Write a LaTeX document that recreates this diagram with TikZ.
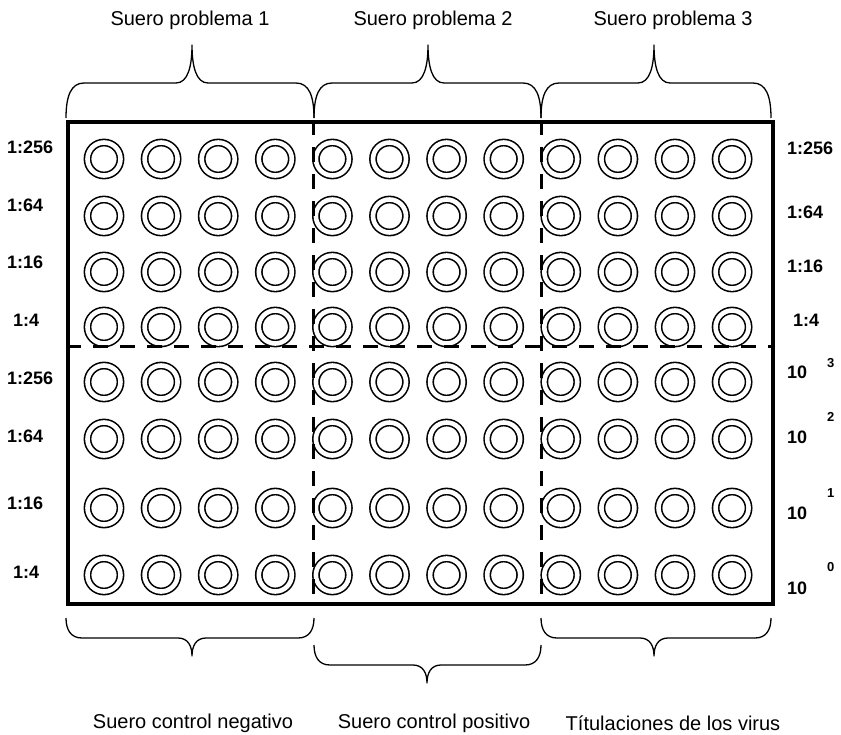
\documentclass[tikz,border=0pt]{standalone}
\usepackage{fontspec}
\setmainfont{Liberation Sans}
\usetikzlibrary{positioning}

\begin{document}
\begin{tikzpicture}[
  x=1pt, y=-1pt,
  % Wells of the plate
  well/.style={
    circle, draw, double, line width=1.6pt, double distance=4.6pt,
    minimum size=33pt, inner sep=0pt
  },
  % Plate outline and dividers
  plate/.style={
    rectangle, draw, line width=3.5pt, inner sep=0pt,
    minimum width=705pt, minimum height=482pt, anchor=north west
  },
  divider/.style={line width=3pt, dash pattern=on 15pt off 12pt},
  % Braces
  brace/.style={line width=1.3pt, line join=round},
  % Texts
  rowlabel/.style={font=\fontsize{18}{20}\selectfont\bfseries, anchor=west, inner sep=0pt},
  explabel/.style={font=\fontsize{13}{15}\selectfont\bfseries, anchor=west, inner sep=0pt},
  grouplabel/.style={font=\fontsize{20}{24}\selectfont, inner sep=0pt}
]
\useasboundingbox (0,0) rectangle (841,734);

% === PLATE ===
\node[plate] (plate) at (66,120) {};

% === WELLS ===
\foreach \r/\yy in {1/159, 2/216, 3/272, 4/327, 5/382, 6/439, 7/508, 8/575}
  \foreach \c in {0,...,11}
    \node[well] (w\r-\c) at ({104+57.1*\c},\yy) {};

% === DIVIDERS ===
\draw[divider] (313,120) -- (313,604);
\draw[divider] (541,120) -- (541,604);
\draw[divider] (66,346) -- (771,346);

% === TOP BRACES ===
\foreach \xa/\xm/\xb in {66/192/314, 314/428/541, 541/654/771}
  \draw[brace] (\xa,118) .. controls (\xa,96) and (\xa+5,83) .. (\xa+18,83)
    -- (\xm-16,83) .. controls (\xm-4,83) and (\xm,66) .. (\xm,45)
    .. controls (\xm,66) and (\xm+4,83) .. (\xm+16,83)
    -- (\xb-18,83) .. controls (\xb-5,83) and (\xb,96) .. (\xb,118);

% === BOTTOM BRACES ===
\foreach \xa/\xm/\xb/\yt in {66/192/314/618, 314/427/541/645, 541/654/771/618}
  \draw[brace] (\xa,\yt) .. controls (\xa,\yt+12) and (\xa+5,\yt+20) .. (\xa+16,\yt+20)
    -- (\xm-14,\yt+20) .. controls (\xm-4,\yt+20) and (\xm,\yt+28) .. (\xm,\yt+38)
    .. controls (\xm,\yt+28) and (\xm+4,\yt+20) .. (\xm+14,\yt+20)
    -- (\xb-16,\yt+20) .. controls (\xb-5,\yt+20) and (\xb,\yt+12) .. (\xb,\yt);

% === GROUP LABELS ===
\node[grouplabel] (sp1) at (190,20) {Suero problema 1};
\node[grouplabel] (sp2) at (433,20) {Suero problema 2};
\node[grouplabel] (sp3) at (673,20) {Suero problema 3};
\node[grouplabel] (cneg) at (193,723) {Suero control negativo};
\node[grouplabel] (cpos) at (434,723) {Suero control positivo};
\node[grouplabel] (tit) at (673,723) {Títulaciones de los virus};

% === ROW LABELS ===
\foreach \n/\xx/\yy/\t in {a/7/147/1:256, b/7/205/1:64, c/7/262/1:16, d/13/320/1:4,
                          e/7/378/1:256, f/7/436/1:64, g/7/503/1:16, h/13/572/1:4}
  \node[rowlabel] (left-\n) at (\xx,\yy) {\t};
\foreach \n/\xx/\yy/\t in {a/787/148/1:256, b/787/212/1:64, c/787/266/1:16, d/793/320/1:4}
  \node[rowlabel] (right-\n) at (\xx,\yy) {\t};
\foreach \n/\yy/\ey in {3/372/363, 2/437/417, 1/513/493, 0/588/567} {
  \node[rowlabel] (ten\n) at (787,\yy) {10};
  \node[explabel] (exp\n) at (827,\ey) {\n};
}

\end{tikzpicture}
\end{document}
